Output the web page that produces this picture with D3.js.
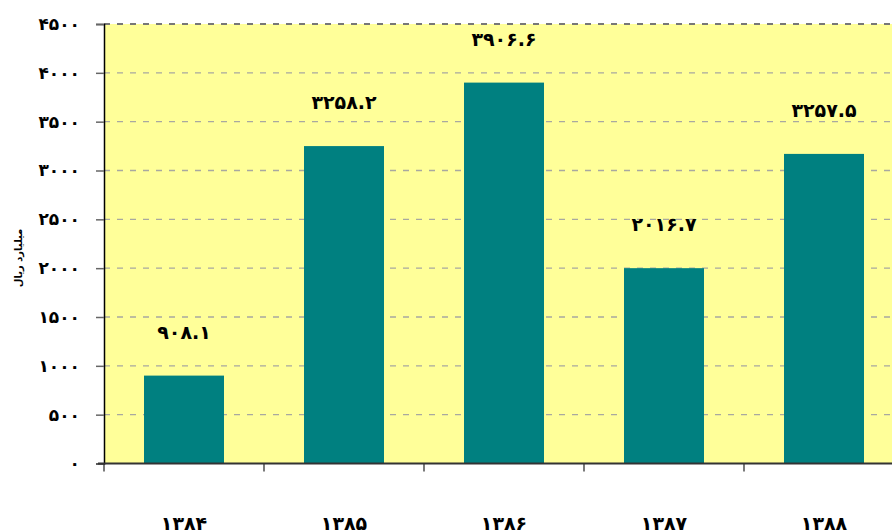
<!DOCTYPE html>
<html>
<head>
<meta charset="utf-8">
<script src="https://cdn.jsdelivr.net/npm/d3@7"></script>
<style>
  body { margin: 0; background: #fff; overflow: hidden; }
  text { font-family: "DejaVu Sans", "Noto Sans", sans-serif; }
</style>
</head>
<body>
<div id="chart-area"></div>
<script>
var categories = ["۱۳۸۴", "۱۳۸۵", "۱۳۸۶", "۱۳۸۷", "۱۳۸۸"];
var values = [900, 3250, 3900, 2000, 3170];
var value_labels = ["۹۰۸.۱", "۳۲۵۸.۲", "۳۹۰۶.۶", "۲۰۱۶.۷", "۳۲۵۷.۵"];
var y_ticks = [0, 500, 1000, 1500, 2000, 2500, 3000, 3500, 4000, 4500];
var y_tick_labels = ["۰", "۵۰۰", "۱۰۰۰", "۱۵۰۰", "۲۰۰۰", "۲۵۰۰", "۳۰۰۰", "۳۵۰۰", "۴۰۰۰", "۴۵۰۰"];
var y_title = "میلیارد ریال";

var total_width = 892;
var total_height = 532;

var svg = d3.select('#chart-area').append('svg')
            .attr("width", total_width)
            .attr("height", total_height);

var margin = {top: 24, left: 104};
var width = 800;
var height = 439.5;

var plot = svg.append('g')
              .attr("transform", "translate(" + margin.left + "," + margin.top + ")");

var x = d3.scaleBand()
          .domain(categories)
          .range([0, width])
          .paddingInner(0.5)
          .paddingOuter(0.25);

var x_edge = d3.scaleLinear()
          .domain([0, categories.length])
          .range([0, width]);

var y = d3.scaleLinear()
          .domain([0, 4500])
          .range([height, 0]);

// plot background
plot.append("rect")
    .attr("x", 0)
    .attr("y", 0)
    .attr("width", width)
    .attr("height", height)
    .style("fill", "#FFFF99");

// gridlines
plot.selectAll(".grid")
    .data(y_ticks.filter(d => d > 0))
    .enter().append("line")
    .attr("x1", 0)
    .attr("x2", width)
    .attr("y1", d => y(d))
    .attr("y2", d => y(d))
    .style("stroke", d => d == 4500 ? "#777" : "#a8a8a0")
    .style("stroke-width", d => d == 4500 ? 2 : 1.3)
    .style("stroke-dasharray", "6,7");

// bars
plot.selectAll(".bar")
    .data(values)
    .enter().append("rect")
    .attr("x", (d, i) => x(categories[i]))
    .attr("y", d => y(d))
    .attr("width", x.bandwidth())
    .attr("height", d => height - y(d))
    .style("fill", "#008080");

// value labels
plot.selectAll(".vlabel")
    .data(values)
    .enter().append("text")
    .attr("x", (d, i) => x(categories[i]) + x.bandwidth() / 2)
    .attr("y", d => y(d) - 37)
    .attr("direction", "ltr")
    .style("text-anchor", "middle")
    .style("font-size", "19px")
    .style("font-weight", "bold")
    .text((d, i) => value_labels[i]);

// y axis
var yAxis = d3.axisLeft(y)
              .tickValues(y_ticks)
              .tickSize(8)
              .tickPadding(16)
              .tickFormat((d, i) => y_tick_labels[i]);

var gy = plot.append("g").call(yAxis);
gy.select(".domain").style("stroke", "#000").style("stroke-width", 1.5);
gy.selectAll(".tick line").style("stroke", "#666").style("stroke-width", 1.5);
gy.selectAll(".tick text")
  .style("font-size", "17px")
  .style("font-weight", "bold")
  .style("fill", "#000")
  .attr("direction", "ltr");

// x axis
var gx = plot.append("g").attr("transform", "translate(0," + height + ")");
gx.append("line")
  .attr("x1", -6).attr("x2", width)
  .attr("y1", 0).attr("y2", 0)
  .style("stroke", "#333")
  .style("stroke-width", 2);
gx.selectAll(".xtick")
  .data(d3.range(categories.length + 1))
  .enter().append("line")
  .attr("x1", d => x_edge(d))
  .attr("x2", d => x_edge(d))
  .attr("y1", 0)
  .attr("y2", 8)
  .style("stroke", "#333")
  .style("stroke-width", 1.3);
gx.selectAll(".xlabel")
  .data(categories)
  .enter().append("text")
  .attr("x", d => x(d) + x.bandwidth() / 2)
  .attr("y", 66)
  .attr("direction", "ltr")
  .style("text-anchor", "middle")
  .style("font-size", "19px")
  .style("font-weight", "bold")
  .text(d => d);

// y title
svg.append("text")
   .attr("transform", "translate(22,258) rotate(-90)")
   .style("text-anchor", "middle")
   .style("font-size", "10px")
   .style("font-weight", "bold")
   .text(y_title);
</script>
</body>
</html>
